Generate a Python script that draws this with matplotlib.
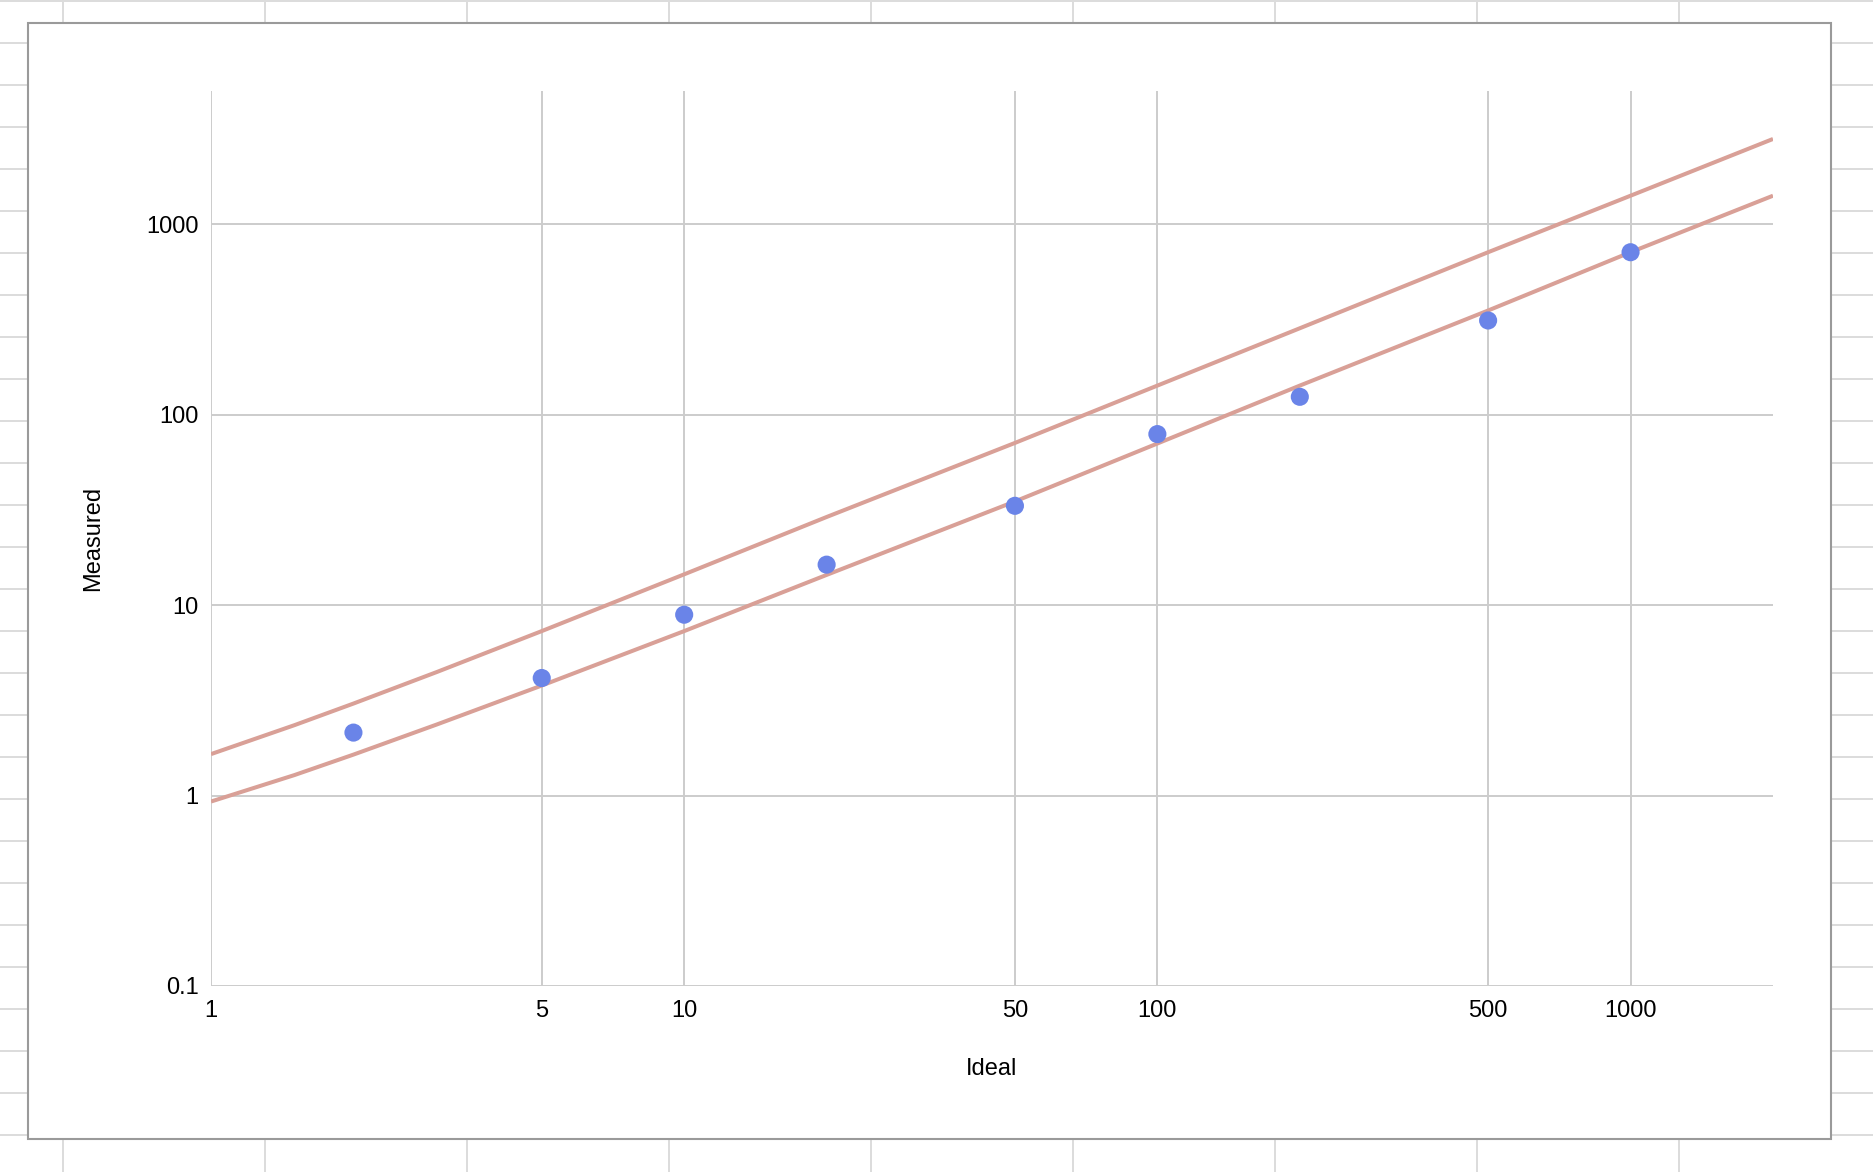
import matplotlib
matplotlib.use('Agg')
import matplotlib.pyplot as plt
from matplotlib.lines import Line2D
from matplotlib.patches import Rectangle
from matplotlib.ticker import FixedLocator, FixedFormatter, NullLocator

# ---- data ----
ideal = [2, 5, 10, 20, 50, 100, 200, 500, 1000]
measured = [2.14, 4.14, 8.9, 16.3, 33.2, 79, 124, 312, 712]

line_x = [1, 1.5, 2, 3, 5, 10, 20, 50, 100, 200, 500, 1000, 2000]
lower_line = [0.93, 1.28, 1.64, 2.36, 3.78, 7.3, 14.4, 35, 70.5, 142, 352, 712, 1410]
upper_line = [1.65, 2.34, 3.04, 4.45, 7.3, 14.5, 29, 71, 142, 284, 712, 1410, 2800]

x_ticks = [1, 5, 10, 50, 100, 500, 1000]
x_tick_labels = ['1', '5', '10', '50', '100', '500', '1000']
y_ticks = [0.1, 1, 10, 100, 1000]
y_tick_labels = ['0.1', '1', '10', '100', '1000']

plt.rcParams['font.family'] = ['Liberation Sans', 'DejaVu Sans']

W, H = 1874, 1172
fig = plt.figure(figsize=(W / 100, H / 100), dpi=100)
fig.patch.set_facecolor('white')

# spreadsheet-like background grid
sheet_col = '#dcdcdc'
for k in range(29):
    y = 0.7 + 42 * k
    fig.add_artist(Line2D([0, 1], [1 - y / H, 1 - y / H], transform=fig.transFigure,
                          color=sheet_col, lw=1.4, zorder=-3))
for k in range(10):
    x = 63.3 + 202 * k
    fig.add_artist(Line2D([x / W, x / W], [0, 1], transform=fig.transFigure,
                          color=sheet_col, lw=1.4, zorder=-3))

# chart frame
fx0, fy0, fx1, fy1 = 28, 23, 1831, 1139
fig.add_artist(Rectangle((fx0 / W, 1 - fy1 / H), (fx1 - fx0) / W, (fy1 - fy0) / H,
                         transform=fig.transFigure, facecolor='white',
                         edgecolor='#9a9a9a', lw=1.5, zorder=-2))

# axes
ax_l, ax_r, ax_t, ax_b = 211, 1773, 91, 986
ax = fig.add_axes([ax_l / W, 1 - ax_b / H, (ax_r - ax_l) / W, (ax_b - ax_t) / H])
ax.set_facecolor('none')
ax.set_xscale('log')
ax.set_yscale('log')
ax.set_xlim(1, 2000)
ax.set_ylim(0.1, 5000)

for s in ax.spines.values():
    s.set_visible(False)

ax.xaxis.set_major_locator(FixedLocator(x_ticks))
ax.xaxis.set_major_formatter(FixedFormatter(x_tick_labels))
ax.yaxis.set_major_locator(FixedLocator(y_ticks))
ax.yaxis.set_major_formatter(FixedFormatter(y_tick_labels))
ax.xaxis.set_minor_locator(NullLocator())
ax.yaxis.set_minor_locator(NullLocator())
ax.tick_params(axis='both', length=0, labelsize=17, colors='#000000')
ax.tick_params(axis='x', pad=10)
ax.tick_params(axis='y', pad=9)
ax.grid(True, color='#cccccc', lw=1.4, zorder=0)
ax.set_axisbelow(True)

line_col = '#d9a097'
ax.plot(line_x, upper_line, color=line_col, lw=2.9, zorder=2, solid_capstyle='butt')
ax.plot(line_x, lower_line, color=line_col, lw=2.9, zorder=2, solid_capstyle='butt')
ax.scatter(ideal, measured, s=170, color='#6a84e8', edgecolors='none', zorder=3)

ax.set_xlabel('Ideal', fontsize=17, labelpad=26)
ax.set_ylabel('Measured', fontsize=17, labelpad=30)

fig.savefig('out.png', dpi=100)
